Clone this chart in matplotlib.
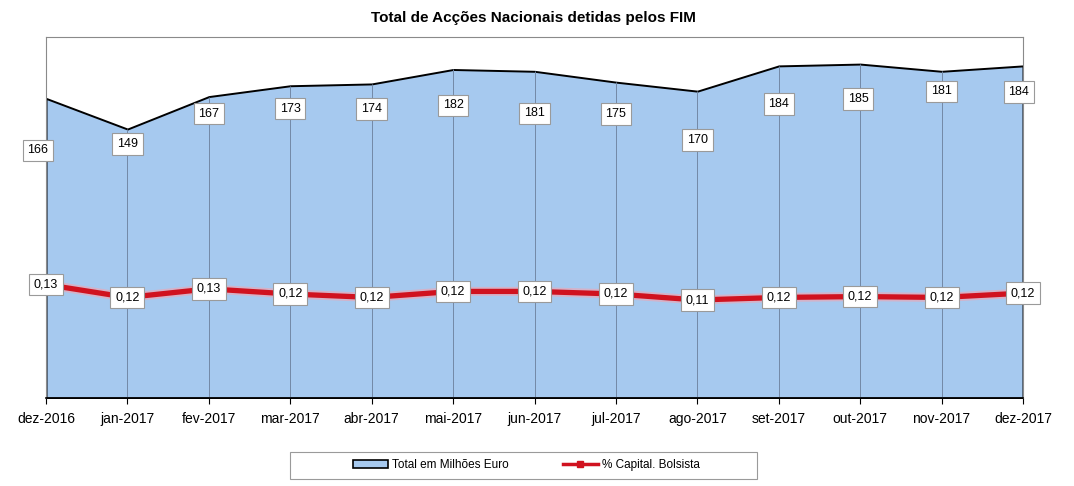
import matplotlib
matplotlib.use("Agg")
import matplotlib.pyplot as plt
from matplotlib.patches import Rectangle, Patch
from matplotlib.lines import Line2D

plt.rcParams['font.family'] = ['Liberation Sans', 'DejaVu Sans']

months = ["dez-2016", "jan-2017", "fev-2017", "mar-2017", "abr-2017", "mai-2017",
          "jun-2017", "jul-2017", "ago-2017", "set-2017", "out-2017", "nov-2017", "dez-2017"]
total = [166, 149, 167, 173, 174, 182, 181, 175, 170, 184, 185, 181, 184]
pct = [0.132, 0.117, 0.127, 0.121, 0.117, 0.124, 0.124, 0.121, 0.114, 0.117, 0.118, 0.117, 0.122]

# label offsets (pixels) for the total labels
lab_dx = [-8, 0, 0, 0, 0, 0, 0, 0, 0, 0, -2, 0, -4]
lab_dy = [-52, -15, -17, -23, -25, -36, -42, -32, -49, -38, -35, -20, -26]

W, H = 1074, 486
fig = plt.figure(figsize=(W / 100, H / 100), dpi=100)
ax = fig.add_axes([46 / W, 1 - 398 / H, (1023 - 46) / W, (398 - 37) / H])
ax2 = ax.twinx()

x = list(range(len(months)))
ax.fill_between(x, 0, total, facecolor='#A6C9EF', edgecolor='black', linewidth=1.4, zorder=1)
ax.vlines(x[1:-1], 0, total[1:-1], colors='#7388A6', linewidth=0.7, zorder=2)
ax.set_xlim(0, len(months) - 1)
ax.set_ylim(0, 200)
ax.set_yticks([])
ax.set_xticks(x)
ax.set_xticklabels(months, fontsize=10)
ax.tick_params(axis='x', direction='out', length=4, width=0.8, pad=6)

for s in ['top', 'right', 'left', 'bottom']:
    ax.spines[s].set_color('#8A8A8A')
    ax2.spines[s].set_visible(False)
ax.spines['bottom'].set_color('black')
ax.spines['bottom'].set_linewidth(1.2)

bbox = dict(boxstyle='square,pad=0.38', facecolor='white', edgecolor='#9A9A9A', linewidth=0.8)

ax2.plot(x, pct, color='#F4A3AE', linewidth=6.5, alpha=0.6, solid_capstyle='butt', zorder=3)
ax2.plot(x, pct, color='#D0121F', linewidth=3.8, solid_capstyle='butt', zorder=4)
ax2.set_ylim(0, 0.42)
ax2.set_yticks([])

for i, v in enumerate(total):
    ax2.annotate(f"{v}", (x[i], v), xycoords=ax.transData,
                 xytext=(lab_dx[i] * 0.72, lab_dy[i] * 0.72),
                 textcoords='offset points', ha='center', va='center', fontsize=9,
                 bbox=bbox, zorder=5, annotation_clip=False)
for i, v in enumerate(pct):
    ax2.annotate(f"{v:.2f}".replace('.', ','), (x[i], v), xytext=(0, 0),
                 textcoords='offset points', ha='center', va='center', fontsize=9,
                 bbox=bbox, zorder=6, annotation_clip=False)

fig.text(533 / W, 1 - 18 / H, "Total de Acções Nacionais detidas pelos FIM",
         ha='center', va='center', fontsize=11, fontweight='bold')

# legend
fig.patches.append(Rectangle((290 / W, 1 - 479 / H), 467 / W, 27 / H, transform=fig.transFigure,
                             facecolor='white', edgecolor='#9A9A9A', linewidth=0.8))
handles = [Patch(facecolor='#A6C9EF', edgecolor='black', linewidth=1.2),
           Line2D([], [], color='#D0121F', linewidth=2.5, marker='s', markersize=4)]
fig.legend(handles, ["Total em Milhões Euro", "% Capital. Bolsista"], loc='center',
           bbox_to_anchor=(526 / W, 1 - 465 / H), ncol=2, frameon=False, fontsize=8.5,
           handlelength=3.0, handleheight=0.6, handletextpad=0.3, columnspacing=4.6)

fig.savefig("out.png", dpi=100)
